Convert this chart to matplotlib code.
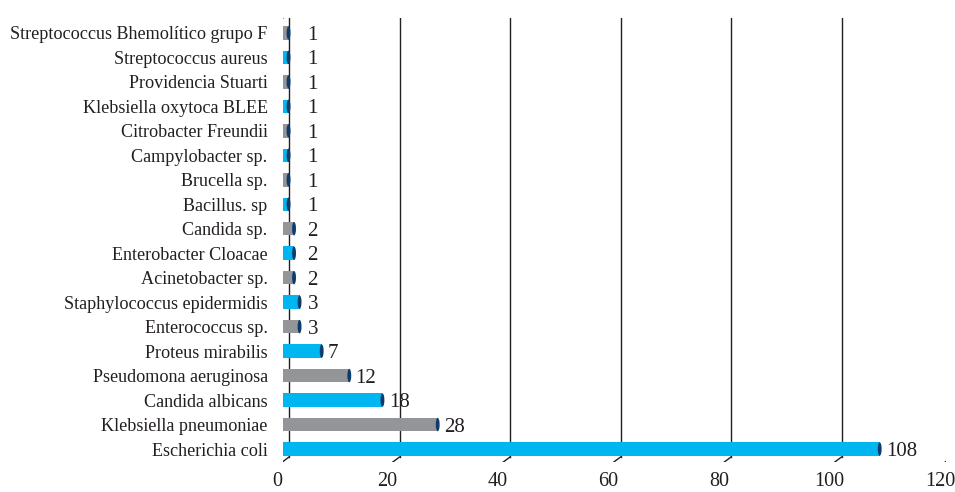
import numpy as np
import matplotlib.pyplot as plt
import matplotlib.transforms as mtransforms
from matplotlib.patches import Ellipse

plt.rcParams['font.family'] = ['Liberation Serif', 'DejaVu Serif']

# data, top to bottom as in the picture
organisms = ["Streptococcus Bhemolítico grupo F", "Streptococcus aureus",
             "Providencia Stuarti", "Klebsiella oxytoca BLEE",
             "Citrobacter Freundii", "Campylobacter sp.", "Brucella sp.",
             "Bacillus. sp", "Candida sp.", "Enterobacter Cloacae",
             "Acinetobacter sp.", "Staphylococcus epidermidis",
             "Enterococcus sp.", "Proteus mirabilis", "Pseudomona aeruginosa",
             "Candida albicans", "Klebsiella pneumoniae", "Escherichia coli"]
counts = [1, 1, 1, 1, 1, 1, 1, 1, 2, 2, 2, 3, 3, 7, 12, 18, 28, 108]
xticks = [0, 20, 40, 60, 80, 100, 120]

cyan = "#00b6f0"
grey = "#939598"
cap_col = "#0d3b6e"
line_col = "#231f20"

W, H = 955, 492
fig = plt.figure(figsize=(W / 100, H / 100), dpi=100)
# axes = middle depth plane of the pseudo-3D box
ax = fig.add_axes([283 / W, (H - 461.5) / H, (946 - 283) / W, (461.5 - 18) / H])
for s in ax.spines.values():
    s.set_visible(False)

n = len(organisms)
ypos = np.arange(n)[::-1]
ylo, yhi = -0.51, 17.61
ax.set_xlim(0, 120)
ax.set_ylim(ylo, yhi)

back = ax.transData + mtransforms.ScaledTranslation(0.06, 0.045, fig.dpi_scale_trans)
front = ax.transData + mtransforms.ScaledTranslation(-0.06, -0.045, fig.dpi_scale_trans)

# back wall gridlines and floor diagonals
for x in xticks:
    ax.plot([x, x], [ylo, yhi], color=line_col, lw=1.0, transform=back, zorder=1)
    p0 = back.transform((x, ylo))
    p1 = front.transform((x, ylo))
    ax.plot([p0[0], p1[0]], [p0[1], p1[1]], color=line_col, lw=1.0,
            transform=None, zorder=1)
# left wall front edge + top diagonal
ax.plot([0, 0], [ylo, yhi], color=line_col, lw=1.0, transform=front, zorder=1)
p0 = back.transform((0, yhi))
p1 = front.transform((0, yhi))
ax.plot([p0[0], p1[0]], [p0[1], p1[1]], color=line_col, lw=1.0,
        transform=None, zorder=1)

colors = [grey if (n - 1 - i) % 2 else cyan for i in range(n)]
ax.barh(ypos, counts, height=0.55, color=colors, zorder=3)
for y, v in zip(ypos, counts):
    ax.add_patch(Ellipse((v, y), 0.7, 0.55, facecolor=cap_col,
                         edgecolor="none", zorder=4))
    ax.annotate(str(v), (max(v, 3.3), y), xytext=(4.5, 0), textcoords="offset points",
                va="center_baseline", ha="left", fontsize=15, color="#231f20", zorder=5)

ax.set_yticks(ypos, labels=organisms, fontsize=13.1, color="#231f20")
ax.set_xticks(xticks, labels=[str(t) for t in xticks], fontsize=14.5, color="#231f20")
ax.tick_params(axis="y", length=0, pad=11)
ax.tick_params(axis="x", length=0, pad=4)
off = mtransforms.ScaledTranslation(-0.06, -0.045, fig.dpi_scale_trans)
for lab in ax.get_xticklabels():
    lab.set_transform(lab.get_transform() + off)

fig.savefig("out.png", dpi=100)
